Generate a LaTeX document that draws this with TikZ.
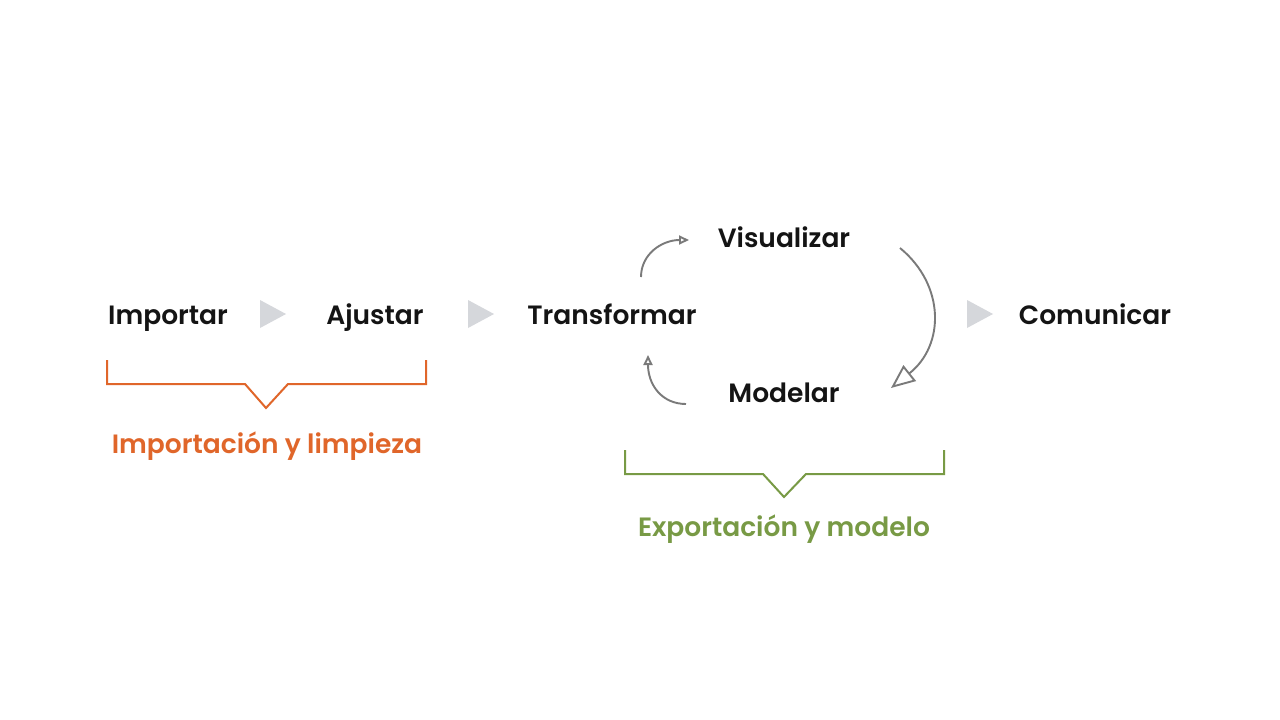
\documentclass[tikz,border=0pt]{standalone}
\usepackage{fontspec}
\setmainfont{Poppins}
\newfontfamily\semi{Poppins SemiBold}
\usetikzlibrary{arrows.meta}
\definecolor{orng}{HTML}{E0662A}
\definecolor{grn}{HTML}{789A45}
\definecolor{tri}{HTML}{D5D7DB}
\definecolor{arr}{HTML}{7A7A7A}
\tikzset{
  step label/.style={font=\semi\fontsize{26.5}{30}\selectfont, text=black!92, inner sep=0pt, anchor=base},
  group label/.style={font=\semi\fontsize{26.5}{30}\selectfont, inner sep=0pt, anchor=base},
  triangle mark/.style={fill=tri, draw=none},
  cyc/.style={draw=arr, line width=1.9pt, -{Triangle[open, length=10pt, width=9pt]}},
  bigcyc/.style={draw=arr, line width=1.9pt, -{Triangle[open, length=24pt, width=20pt]}},
  brace/.style={line width=2pt}
}
\begin{document}
\begin{tikzpicture}[x=1pt,y=-1pt]
\useasboundingbox (0,0) rectangle (1280,720);
\fill[white] (0,0) rectangle (1280,720);
% steps
\node[step label] (imp) at (168,324) {Importar};
\node[step label] (aju) at (375,324) {Ajustar};
\node[step label] (tra) at (612,324) {Transformar};
\node[step label] (vis) at (784,247) {Visualizar};
\node[step label] (mod) at (784,402) {Modelar};
\node[step label] (com) at (1095,324) {Comunicar};
% grey triangles
\fill[triangle mark] (260,300) -- (286,314) -- (260,328) -- cycle;
\fill[triangle mark] (468,300) -- (494,314) -- (468,328) -- cycle;
\fill[triangle mark] (967,300) -- (993,314) -- (967,328) -- cycle;
% cycle arrows
\coordinate (a1s) at (641,277);
\coordinate (a1e) at (689,240);
\draw[cyc] (a1s) .. controls (641,254) and (662,240) .. (a1e);
\coordinate (a2s) at (900,248);
\coordinate (a2e) at (891,388);
\draw[bigcyc] (a2s) .. controls (945,285) and (945,345) .. (a2e);
\coordinate (a3s) at (686,404);
\coordinate (a3e) at (648,355);
\draw[cyc] (a3s) .. controls (662,404) and (648,385) .. (a3e);
% orange bracket
\draw[brace, draw=orng] (107,360) -- (107,384) -- (245,384) -- (266,408) -- (288,384) -- (426,384) -- (426,360);
\node[group label, text=orng] (g1) at (267,453) {Importación y limpieza};
% green bracket
\draw[brace, draw=grn] (625,450) -- (625,474) -- (763,474) -- (784,497) -- (806,474) -- (944,474) -- (944,450);
\node[group label, text=grn] (g2) at (784,536) {Exportación y modelo};
\end{tikzpicture}
\end{document}
